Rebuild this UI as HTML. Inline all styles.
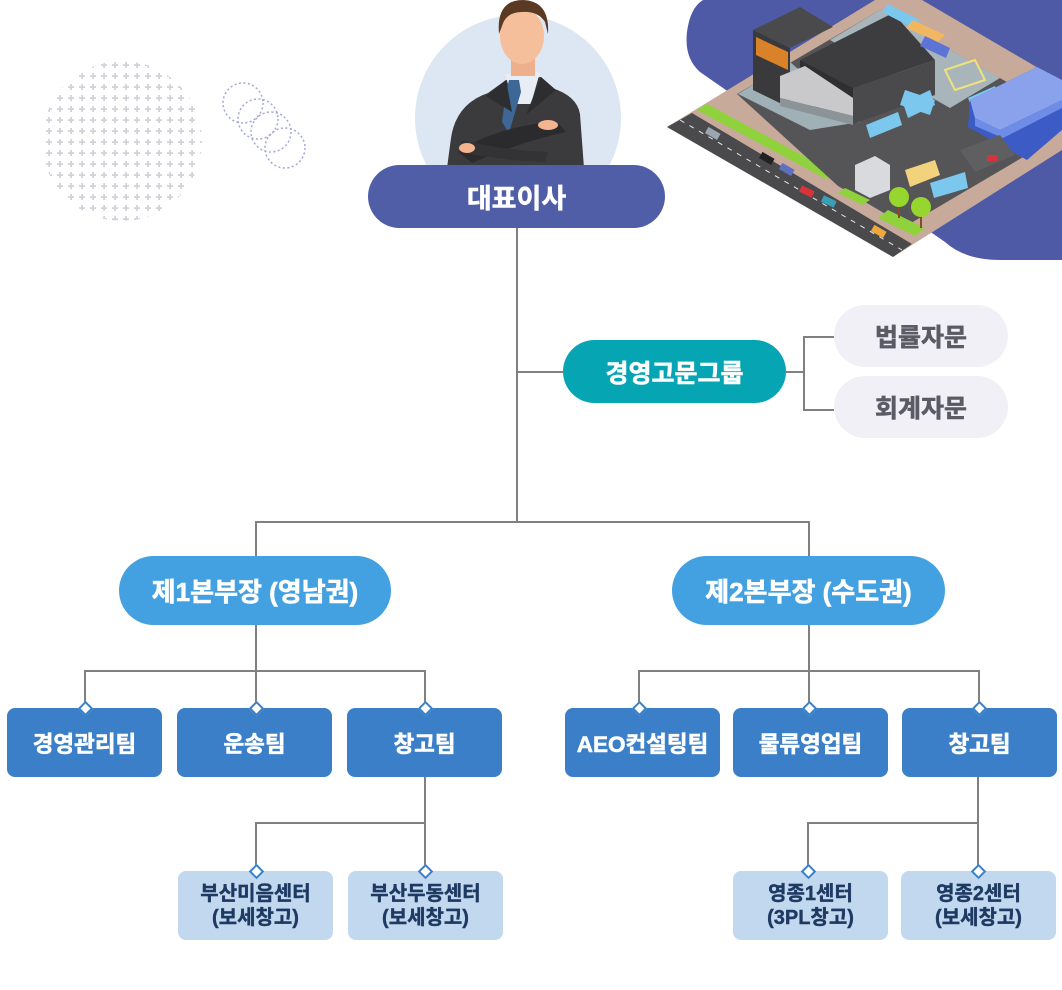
<!DOCTYPE html>
<html lang="ko">
<head>
<meta charset="utf-8">
<style>
  html,body{margin:0;padding:0;background:#fff;}
  body{width:1062px;height:990px;position:relative;overflow:hidden;
       font-family:"Liberation Sans","Noto Sans CJK KR",sans-serif;font-weight:700;}
  svg.bg{position:absolute;left:0;top:0;}
  .b{position:absolute;display:flex;align-items:center;justify-content:center;text-align:center;box-sizing:border-box;white-space:nowrap;-webkit-text-stroke:0.6px currentColor;}
  .ceo{left:368px;top:165px;width:297px;height:63px;border-radius:32px;background:#4f5ea6;color:#fff;font-size:27px;}
  .adv{left:563px;top:340px;width:223px;height:63px;border-radius:32px;background:#06a5b3;color:#fff;font-size:25px;}
  .sub{left:834px;width:174px;height:62px;border-radius:31px;background:#f0f0f6;color:#5b5b66;font-size:25px;}
  .hq{top:556px;height:69px;border-radius:35px;background:#44a1e1;color:#fff;font-size:26px;}
  .team{top:708px;width:155px;height:69px;border-radius:8px;background:#3a7fc7;color:#fff;font-size:22.5px;}
  .ctr{top:871px;width:155px;height:69px;border-radius:8px;background:#c2d8ee;color:#1e3a63;font-size:20px;line-height:24px;white-space:normal;-webkit-text-stroke:0.4px currentColor;}
  .dm{position:absolute;width:11px;height:11px;background:#fff;border:2px solid #3a7fc7;transform:rotate(45deg);box-sizing:border-box;}
</style>
</head>
<body>
<svg class="bg" width="1062" height="990" viewBox="0 0 1062 990" xmlns="http://www.w3.org/2000/svg">
  <defs>
    <pattern id="plus" x="43.5" y="59.5" width="11" height="11" patternUnits="userSpaceOnUse">
      <rect x="4.7" y="2.5" width="1.8" height="6" fill="#d2d2d8"/>
      <rect x="2.5" y="4.7" width="6" height="1.8" fill="#d2d2d8"/>
    </pattern>
    <clipPath id="cc"><circle cx="122" cy="141" r="80"/></clipPath>
  </defs>

  <!-- decorative dotted circle -->
  <rect x="40" y="59" width="165" height="165" fill="url(#plus)" clip-path="url(#cc)"/>
  <!-- dashed circles -->
  <g fill="none" stroke="#a3a6da" stroke-width="1.5" stroke-dasharray="2 2.5">
    <circle cx="243" cy="103" r="20"/>
    <circle cx="258" cy="119" r="20"/>
    <circle cx="271" cy="132" r="20"/>
    <circle cx="285" cy="148" r="20"/>
  </g>

  <!-- CEO background circle and figure -->
  <circle cx="518" cy="118" r="103" fill="#dde7f3"/>
  <path d="M447,168 L451,138 Q456,104 488,93 L506,80 L541,77 L552,88 Q577,96 580,114 L584,168 Z" fill="#3b3b3e"/>
  <polygon points="505,74 540,72 531,104 514,104" fill="#e9eef6"/>
  <polygon points="509,80 519,80 521,92 509,133 502,122 506,92" fill="#3c6796"/>
  <path d="M486,96 L506,80 L512,112 Z" fill="#2e2e31"/>
  <path d="M541,77 L556,90 L526,115 Z" fill="#2e2e31"/>
  <rect x="511" y="52" width="24" height="24" fill="#eeb08a"/>
  <ellipse cx="522" cy="36" rx="22" ry="28" fill="#f6bf9b"/>
  <path d="M499,34 Q496,0 523,0 Q550,1 548,34 L545,22 Q538,11 522,12 Q506,12 502,26 Z" fill="#5b3a24"/>
  <path d="M458,152 Q492,128 556,121 L566,132 Q520,142 472,163 Z" fill="#2b2b2e"/>
  <path d="M462,140 Q500,150 548,152 L545,162 Q498,160 460,152 Z" fill="#333336"/>
  <ellipse cx="548" cy="125" rx="10" ry="5" fill="#f4b48f"/>
  <ellipse cx="467" cy="148" rx="8" ry="5" fill="#f4b48f"/>

  <!-- warehouse illustration -->
  <path d="M703,0 L1062,0 L1062,260 L1000,260 Q965,260 945,242 L700,72 Q684,58 687,32 Q690,8 703,0 Z" fill="#4f5aa6"/>
  <polygon points="667,127 875,0 922,0 1062,82 1062,150 893,257" fill="#c8aa9a"/>
  <polygon points="667,127 692,113 912,244 893,257" fill="#4a4a4d"/>
  <line x1="680" y1="120" x2="902" y2="250" stroke="#e8e8e8" stroke-width="1" stroke-dasharray="5 6"/>
  <polygon points="697,110 707,104 835,173 826,179" fill="#8fd23c"/>
  <polygon points="737,94 880,10 1042,102 1042,146 906,226 838,186" fill="#555558"/>
  <polygon points="880,10 1000,78 950,108 830,40" fill="#a8b6bc"/>
  <polygon points="738,94 790,62 860,122 810,130" fill="#9fb0b6"/>
  <!-- tall left building -->
  <polygon points="753,30 800,7 833,27 790,48" fill="#4a4a4d"/>
  <polygon points="753,30 790,48 790,108 753,90" fill="#3a3a3c"/>
  <polygon points="756,37 788,52 788,70 756,55" fill="#d9822a"/>
  <!-- main dark warehouse -->
  <polygon points="800,60 893,13 935,60 853,88" fill="#3d3d40"/>
  <polygon points="800,60 853,88 853,124 800,100" fill="#2f2f31"/>
  <polygon points="853,88 935,60 935,95 853,124" fill="#4a4a4c"/>
  <polygon points="780,76 805,66 853,98 853,116 780,98" fill="#c9c9cb"/>
  <polygon points="780,98 853,116 853,125 780,106" fill="#8d9498"/>
  <!-- trucks -->
  <polygon points="888,4 920,20 913,28 882,12" fill="#7cc7ee"/>
  <polygon points="913,20 945,35 938,42 906,28" fill="#f1b662"/>
  <polygon points="925,36 950,48 946,58 920,46" fill="#5d73d6"/>
  <polygon points="903,103 930,90 935,105 908,118" fill="#7cc7ee"/>
  <polygon points="905,90 935,100 930,115 900,105" fill="#7cc7ee"/>
  <polygon points="866,125 898,112 902,125 870,138" fill="#7cc7ee"/>
  <polygon points="905,170 935,160 940,175 910,187" fill="#f3d27e"/>
  <polygon points="930,183 965,172 968,188 934,198" fill="#7cc7ee"/>
  <polygon points="968,98 995,86 998,96 972,108" fill="#7cc7ee"/>
  <polygon points="945,70 975,60 985,80 955,90" fill="none" stroke="#f0e27a" stroke-width="2"/>
  <!-- blue building right -->
  <polygon points="968,127 970,100 1037,67 1062,80 1062,130 1027,160" fill="#3d5bc4"/>
  <polygon points="970,100 1037,67 1062,80 1062,100 1000,130 975,118" fill="#8aa2ec"/>
  <polygon points="975,118 1000,130 1062,100 1062,108 1003,138 975,126" fill="#6f8ce6"/>
  <!-- parking / guard house / trees -->
  <polygon points="960,150 1000,135 1015,155 975,172" fill="#5f5f62"/>
  <rect x="987" y="155" width="10" height="6" fill="#d8323a"/>
  <polygon points="855,165 875,156 890,165 890,190 870,198 855,190" fill="#d9dadd"/>
  <polygon points="845,188 870,200 862,205 838,193" fill="#8fd23c"/>
  <polygon points="888,210 925,228 915,236 878,218" fill="#8fd23c"/>
  <line x1="899" y1="200" x2="899" y2="218" stroke="#8b4a20" stroke-width="2"/>
  <line x1="921" y1="210" x2="921" y2="228" stroke="#8b4a20" stroke-width="2"/>
  <circle cx="899" cy="197" r="10" fill="#97d62e"/>
  <circle cx="921" cy="207" r="10" fill="#97d62e"/>
  <rect x="800" y="188" width="14" height="7" fill="#d8323a" transform="rotate(25 807 191)"/>
  <rect x="822" y="198" width="14" height="7" fill="#3aa0b8" transform="rotate(25 829 201)"/>
  <rect x="706" y="130" width="14" height="7" fill="#9aa6b0" transform="rotate(30 713 133)"/>
  <rect x="760" y="155" width="14" height="7" fill="#222" transform="rotate(30 767 158)"/>
  <rect x="780" y="166" width="14" height="7" fill="#6070c0" transform="rotate(30 787 169)"/>
  <rect x="872" y="228" width="14" height="7" fill="#f0a838" transform="rotate(30 879 231)"/>

  <!-- connectors -->
  <g stroke="#808080" stroke-width="2" fill="none">
    <line x1="517" y1="228" x2="517" y2="523"/>
    <line x1="517" y1="372" x2="563" y2="372"/>
    <line x1="786" y1="372" x2="805" y2="372"/>
    <line x1="804" y1="336" x2="804" y2="411"/>
    <line x1="804" y1="337" x2="834" y2="337"/>
    <line x1="804" y1="410" x2="834" y2="410"/>
    <line x1="255" y1="522" x2="810" y2="522"/>
    <line x1="256" y1="522" x2="256" y2="556"/>
    <line x1="809" y1="522" x2="809" y2="556"/>
    <line x1="256" y1="625" x2="256" y2="708"/>
    <line x1="84" y1="671" x2="426" y2="671"/>
    <line x1="85" y1="671" x2="85" y2="708"/>
    <line x1="425" y1="671" x2="425" y2="708"/>
    <line x1="809" y1="624" x2="809" y2="708"/>
    <line x1="638" y1="671" x2="980" y2="671"/>
    <line x1="639" y1="671" x2="639" y2="708"/>
    <line x1="979" y1="671" x2="979" y2="708"/>
    <line x1="425" y1="777" x2="425" y2="871"/>
    <line x1="255" y1="823" x2="426" y2="823"/>
    <line x1="256" y1="823" x2="256" y2="871"/>
    <line x1="978" y1="777" x2="978" y2="871"/>
    <line x1="807" y1="823" x2="979" y2="823"/>
    <line x1="808" y1="823" x2="808" y2="871"/>
  </g>
</svg>

<div class="b ceo">대표이사</div>
<div class="b adv">경영고문그룹</div>
<div class="b sub" style="top:305px;">법률자문</div>
<div class="b sub" style="top:376px;">회계자문</div>

<div class="b hq" style="left:119px;width:272px;">제1본부장 (영남권)</div>
<div class="b hq" style="left:672px;width:273px;">제2본부장 (수도권)</div>

<div class="b team" style="left:7px;">경영관리팀</div>
<div class="b team" style="left:177px;">운송팀</div>
<div class="b team" style="left:347px;">창고팀</div>
<div class="b team" style="left:565px;">AEO컨설팅팀</div>
<div class="b team" style="left:733px;">물류영업팀</div>
<div class="b team" style="left:902px;">창고팀</div>

<div class="b ctr" style="left:178px;">부산미음센터<br>(보세창고)</div>
<div class="b ctr" style="left:348px;">부산두동센터<br>(보세창고)</div>
<div class="b ctr" style="left:733px;">영종1센터<br>(3PL창고)</div>
<div class="b ctr" style="left:901px;">영종2센터<br>(보세창고)</div>

<div class="dm" style="left:79.5px;top:702.5px;"></div>
<div class="dm" style="left:250.5px;top:702.5px;"></div>
<div class="dm" style="left:419.5px;top:702.5px;"></div>
<div class="dm" style="left:633.5px;top:702.5px;"></div>
<div class="dm" style="left:803.5px;top:702.5px;"></div>
<div class="dm" style="left:973.5px;top:702.5px;"></div>
<div class="dm" style="left:250.5px;top:865.5px;"></div>
<div class="dm" style="left:419.5px;top:865.5px;"></div>
<div class="dm" style="left:802.5px;top:865.5px;"></div>
<div class="dm" style="left:972.5px;top:865.5px;"></div>
</body>
</html>
